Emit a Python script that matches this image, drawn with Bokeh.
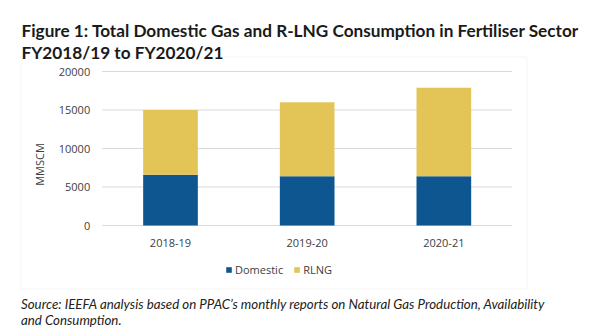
from bokeh.plotting import figure
from bokeh.models import (ColumnDataSource, Label, Legend, LegendItem, BoxAnnotation, Range1d)
from bokeh.core.properties import value
from bokeh.embed import file_html
from bokeh.resources import INLINE

# ---- data ----
years = ["2018-19", "2019-20", "2020-21"]
domestic = [6580, 6400, 6410]
rlng = [8420, 9610, 11480]
y_ticks = [0, 5000, 10000, 15000, 20000]
y_tick_labels = ["0", "5000", "10000", "15000", "20000"]
series = ["Domestic", "RLNG"]
colors = ["#0D5690", "#E3C457"]

title_lines = ["Figure 1: Total Domestic Gas and R-LNG Consumption in Fertiliser Sector",
               "FY2018/19 to FY2020/21"]
source_lines = ["Source: IEEFA analysis based on PPAC\u2019s monthly reports on Natural Gas Production, Availability",
                "and Consumption."]
y_label = "MMSCM"

# ---- layout (the plot frame covers the whole canvas) ----
W, H = 616, 328
X0_PX, UNIT_PX = 170.0, 136.67      # canvas x of first category, px per category
Y0_PX, YPX = 225.0, 154.0 / 20000   # canvas y of value 0, px per unit value

x_start = -X0_PX / UNIT_PX
x_end = (W - X0_PX) / UNIT_PX
y_start = -(H - Y0_PX) / YPX
y_end = Y0_PX / YPX

xs = list(range(len(years)))
src = ColumnDataSource(dict(x=xs, year=years, Domestic=domestic, RLNG=rlng))

p = figure(width=W, height=H, x_range=Range1d(x_start, x_end), y_range=Range1d(y_start, y_end),
           output_backend="svg", toolbar_location=None, x_axis_location=None, y_axis_location=None,
           min_border=0)
p.outline_line_color = None
p.background_fill_color = "white"
p.border_fill_color = "white"
p.xgrid.visible = False
p.ygrid.visible = False

lab_color = "#404040"
font = value("Open Sans")

# outer chart box
p.add_layout(BoxAnnotation(left=20.5, right=526.5, top=H - 56.5, bottom=H - 288.5,
                           left_units="screen", right_units="screen", top_units="screen",
                           bottom_units="screen", fill_color=None, line_color="#d9d9d9",
                           line_width=1, level="underlay"))

# gridlines from ticks
p.segment(x0=[-0.5] * len(y_ticks), x1=[2.5] * len(y_ticks), y0=y_ticks, y1=y_ticks,
          line_color="#d9d9d9", line_width=1)

r = p.vbar_stack(series, x="x", width=0.4, color=colors, source=src, line_width=0)

# y tick labels
p.text(x=[-0.5] * len(y_ticks), y=y_ticks, text=y_tick_labels, x_offset=-12,
       text_align="right", text_baseline="middle", text_font=font,
       text_font_size="11px", text_color=lab_color)
# x category labels
p.text(x=xs, y=[0] * len(xs), text=years, y_offset=17, text_align="center",
       text_baseline="middle", text_font=font, text_font_size="11px", text_color=lab_color)

# y label
p.add_layout(Label(x=39, y=H - 164, x_units="screen", y_units="screen", text=y_label,
                   angle=90, angle_units="deg", text_align="center", text_baseline="middle",
                   text_font="Open Sans", text_font_size="11px", text_color=lab_color))

# title
for t, by in zip(title_lines, [29.5, 51.5]):
    p.add_layout(Label(x=21, y=H - by, x_units="screen", y_units="screen", text=t,
                       text_align="left", text_baseline="alphabetic", text_font="Lato",
                       text_font_style="bold", text_font_size="17.2px", text_color="#1a1a1a"))

# source
for t, by in zip(source_lines, [303.5, 319]):
    p.add_layout(Label(x=20.5, y=H - by, x_units="screen", y_units="screen", text=t,
                       text_align="left", text_baseline="alphabetic", text_font="Lato",
                       text_font_style="italic", text_font_size="13.3px", text_color="#222222"))

legend = Legend(items=[LegendItem(label=s, renderers=[rr]) for s, rr in zip(series, r)],
                orientation="horizontal", location=(225, H - 277),
                glyph_width=7, glyph_height=7, label_standoff=3, spacing=10, padding=0, margin=0,
                border_line_color=None, background_fill_alpha=0,
                label_text_font="Open Sans", label_text_font_size="11px", label_text_color=lab_color)
p.add_layout(legend)

open("out.html", "w").write(file_html(p, INLINE))
